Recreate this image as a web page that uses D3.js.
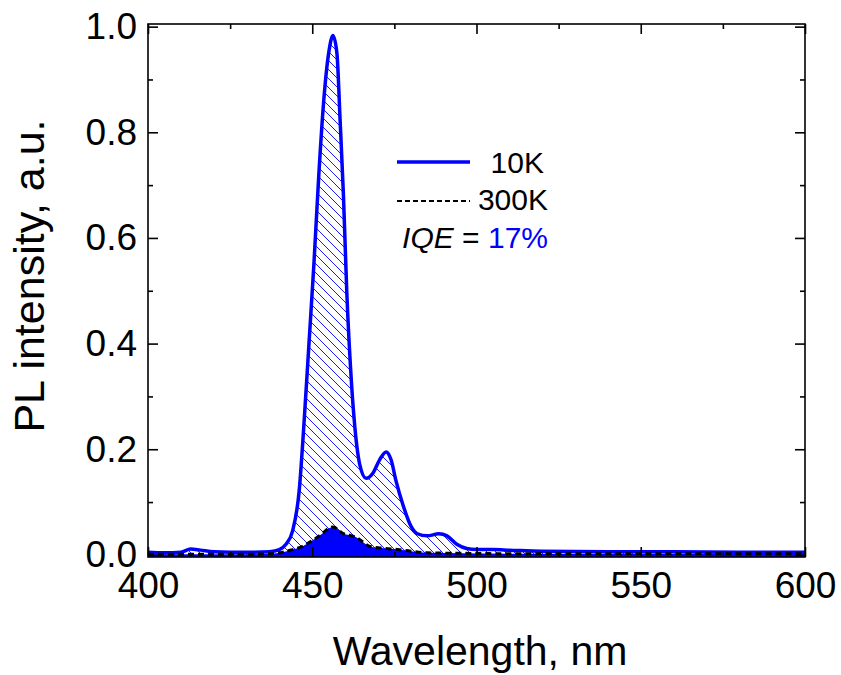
<!DOCTYPE html>
<html>
<head>
<meta charset="utf-8">
<script src="https://cdn.jsdelivr.net/npm/d3@7"></script>
<style>
  html, body { margin: 0; padding: 0; background: #fff; }
  svg { display: block; font-family: "Liberation Sans", Arial, sans-serif; }
</style>
</head>
<body>
<svg id="chart" width="841" height="675"></svg>
<script>
// PL spectra at 10 K and 300 K
const wl10 = [400, 405, 410, 413, 416, 420, 430, 437, 440, 442, 444, 446, 447.5, 449, 450.5, 452, 453.5, 455, 456.3, 457.5, 458.5, 459.5, 460.5, 462, 463, 464.5, 466.4, 468.5, 470.5, 472.5, 474, 475.5, 477.6, 480, 482, 485, 488.5, 491, 494, 497, 500, 505, 510, 520, 540, 560, 580, 600];
const pl10 = [0.005, 0.004, 0.005, 0.011, 0.009, 0.006, 0.005, 0.006, 0.010, 0.020, 0.045, 0.12, 0.25, 0.40, 0.55, 0.72, 0.86, 0.95, 0.983, 0.95, 0.82, 0.68, 0.50, 0.32, 0.24, 0.17, 0.145, 0.155, 0.18, 0.195, 0.18, 0.14, 0.095, 0.055, 0.040, 0.036, 0.040, 0.036, 0.020, 0.012, 0.010, 0.010, 0.009, 0.007, 0.006, 0.006, 0.005, 0.005];

const wl300 = [400, 412, 425, 436, 441, 444, 447, 450, 453, 455, 456.3, 457.5, 459, 461.5, 463.5, 465.5, 467.6, 471, 474.6, 480, 485, 495, 520, 600];
const pl300 = [0.001, 0.001, 0.001, 0.002, 0.005, 0.010, 0.016, 0.027, 0.040, 0.050, 0.053, 0.050, 0.042, 0.037, 0.033, 0.024, 0.016, 0.013, 0.011, 0.007, 0.004, 0.003, 0.002, 0.002];

const xMajor = [400, 450, 500, 550, 600];
const xMinor = [425, 475, 525, 575];
const yMajor = [0.0, 0.2, 0.4, 0.6, 0.8, 1.0];
const yMinor = [0.1, 0.3, 0.5, 0.7, 0.9];

const legendNames = ["10K", "300K"];
const iqeLabel = "17%";

const BLUE = "#0000ff";
const W = 841, H = 675;
const M = { top: 24, right: 36, bottom: 118, left: 148 };
const iw = W - M.left - M.right, ih = H - M.top - M.bottom;

const svg = d3.select("#chart");
const g = svg.append("g").attr("transform", `translate(${M.left},${M.top})`);

const x = d3.scaleLinear().domain([400, 600]).range([0, iw]);
const y = d3.scaleLinear().domain([-0.004, 1.005]).range([ih, 0]);

// hatch pattern for the 10 K area
const defs = svg.append("defs");
const pat = defs.append("pattern").attr("id", "hatch")
  .attr("patternUnits", "userSpaceOnUse").attr("width", 9).attr("height", 9);
pat.append("path").attr("d", "M0,0L9,9M-1,8L1,10M8,-1L10,1")
  .attr("stroke", BLUE).attr("stroke-width", 0.9).attr("fill", "none");
defs.append("clipPath").attr("id", "clip").append("rect")
  .attr("width", iw).attr("height", ih);

const d10 = wl10.map((w, i) => [w, pl10[i]]);
const d300 = wl300.map((w, i) => [w, pl300[i]]);

const area = d3.area().curve(d3.curveMonotoneX)
  .x(d => x(d[0])).y0(ih).y1(d => y(d[1]));
const line = d3.line().curve(d3.curveMonotoneX)
  .x(d => x(d[0])).y(d => y(d[1]));

const plot = g.append("g").attr("clip-path", "url(#clip)");
plot.append("path").attr("d", area(d10)).attr("fill", "url(#hatch)");
plot.append("path").attr("d", area(d300)).attr("fill", BLUE);
plot.append("path").attr("d", line(d10)).attr("fill", "none")
  .attr("stroke", BLUE).attr("stroke-width", 3.5).attr("stroke-linejoin", "round");
plot.append("path").attr("d", line(d300)).attr("fill", "none")
  .attr("stroke", "#000").attr("stroke-width", 3).attr("stroke-dasharray", "6 4");

// frame + inward ticks on all four sides
function axisSet(axisFn, scale, vals, size, labels, pad) {
  return axisFn(scale).tickValues(vals).tickSize(-size).tickPadding(pad)
    .tickFormat(labels ? labels : "");
}
const fmtY = d3.format(".1f");
const layers = [
  [d3.axisBottom, x, xMajor, 10, d => d, `translate(0,${ih})`, 15],
  [d3.axisBottom, x, xMinor, 5, null, `translate(0,${ih})`, 0],
  [d3.axisTop, x, xMajor, 10, null, null, 0],
  [d3.axisTop, x, xMinor, 5, null, null, 0],
  [d3.axisLeft, y, yMajor, 10, fmtY, null, 11],
  [d3.axisLeft, y, yMinor, 5, null, null, 0],
  [d3.axisRight, y, yMajor, 10, null, `translate(${iw},0)`, 0],
  [d3.axisRight, y, yMinor, 5, null, `translate(${iw},0)`, 0],
];
layers.forEach(([fn, sc, vals, size, lab, tr, pad]) => {
  const a = g.append("g");
  if (tr) a.attr("transform", tr);
  a.call(axisSet(fn, sc, vals, size, lab, pad));
  a.selectAll("line").attr("stroke", "#000").attr("stroke-width", 1.6);
  a.selectAll(".domain").remove();
  a.selectAll("text").attr("font-size", 37).attr("fill", "#000")
    .attr("font-family", "Liberation Sans, Arial, sans-serif");
});
g.append("rect").attr("width", iw).attr("height", ih)
  .attr("fill", "none").attr("stroke", "#000").attr("stroke-width", 1.6);

// axis titles
svg.append("text").attr("x", 480).attr("y", 665).attr("text-anchor", "middle")
  .attr("font-size", 41).text("Wavelength, nm");
svg.append("text").attr("transform", "translate(44,276) rotate(-90)")
  .attr("text-anchor", "middle").attr("font-size", 43).text("PL intensity, a.u.");

// legend
const lg = svg.append("g");
lg.append("line").attr("x1", 397).attr("x2", 470).attr("y1", 162).attr("y2", 162)
  .attr("stroke", BLUE).attr("stroke-width", 3.5);
lg.append("line").attr("x1", 397).attr("x2", 470).attr("y1", 201).attr("y2", 201)
  .attr("stroke", "#000").attr("stroke-width", 2).attr("stroke-dasharray", "5 3");
lg.append("text").attr("x", 544).attr("y", 173).attr("text-anchor", "end")
  .attr("font-size", 30).text(legendNames[0]);
lg.append("text").attr("x", 548).attr("y", 210).attr("text-anchor", "end")
  .attr("font-size", 30).text(legendNames[1]);
const iqe = lg.append("text").attr("x", 548).attr("y", 248).attr("text-anchor", "end")
  .attr("font-size", 30);
iqe.append("tspan").attr("font-style", "italic").text("IQE");
iqe.append("tspan").text(" = ");
iqe.append("tspan").attr("fill", BLUE).text(iqeLabel);
</script>
</body>
</html>
